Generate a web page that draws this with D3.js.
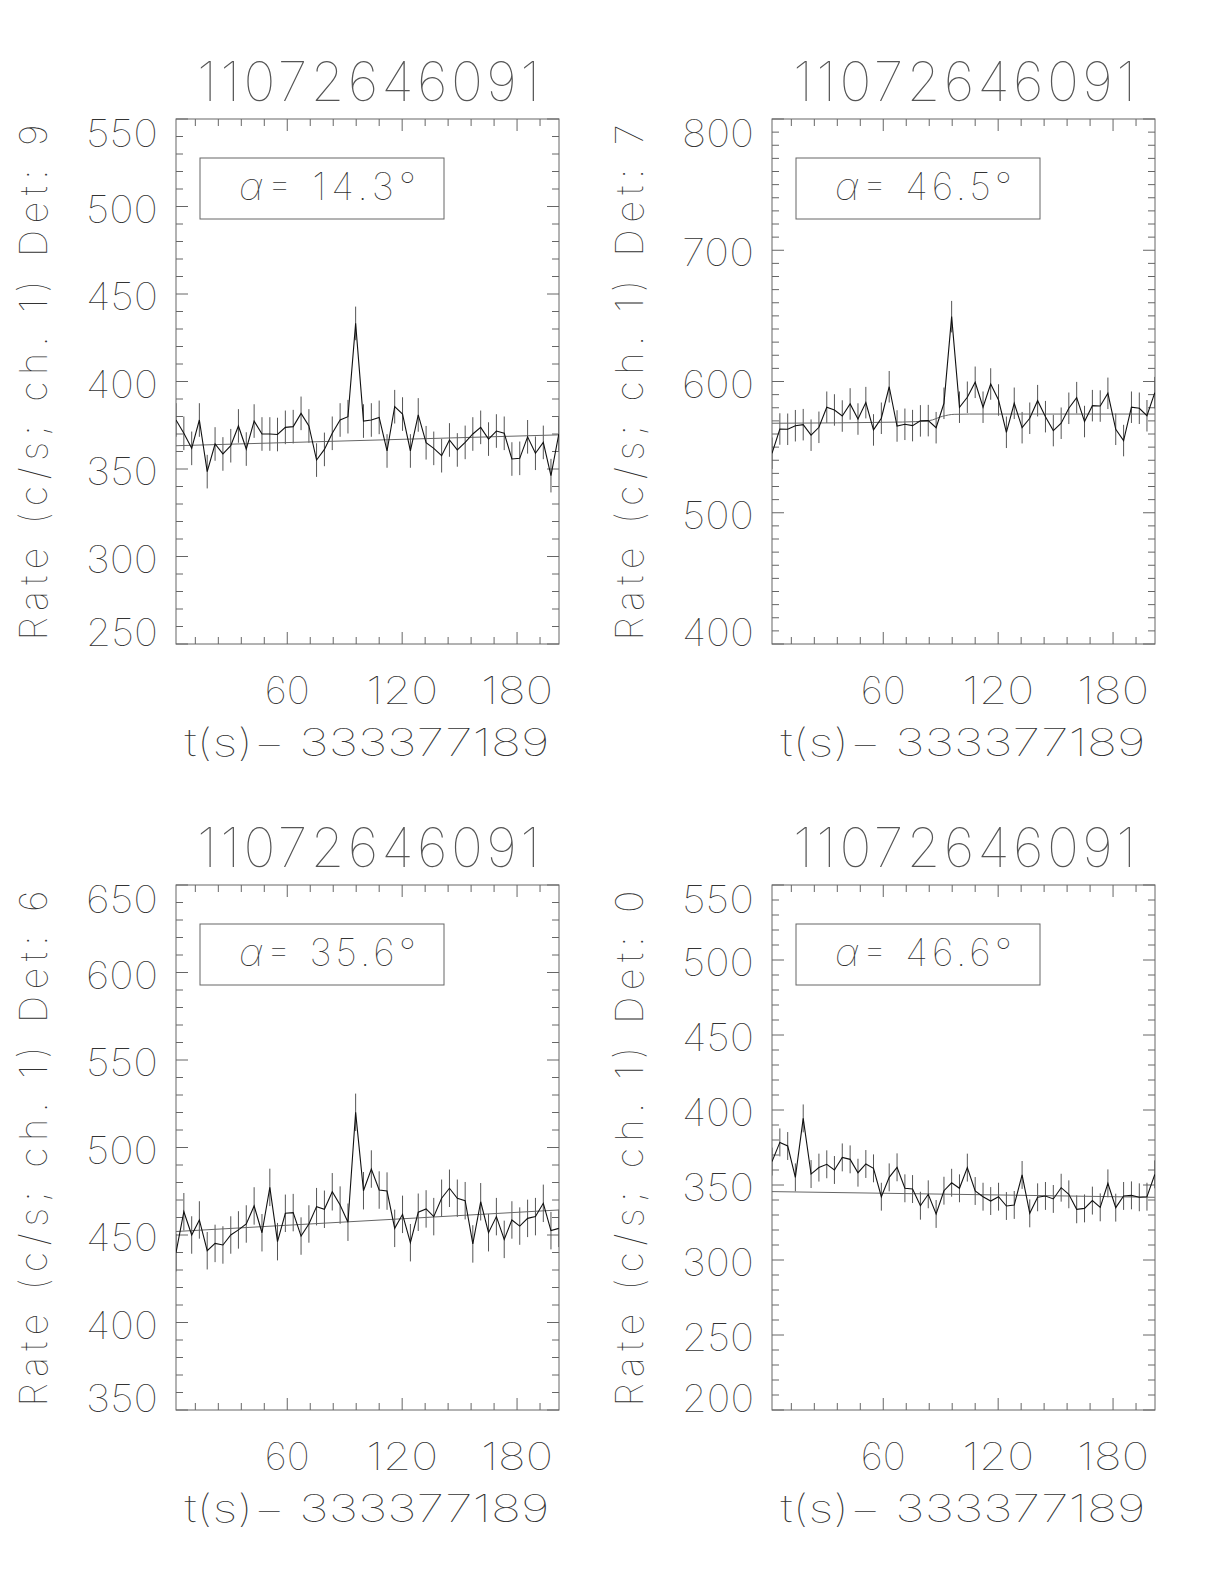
<!DOCTYPE html>
<html><head><meta charset="utf-8">
<script src="https://cdn.jsdelivr.net/npm/d3@7"></script>
<style>
html,body{margin:0;padding:0;background:#fff;}
text{font-family:Inter,"DejaVu Sans",sans-serif;font-weight:100;fill:#333;}
text.ttl{fill:#555;}
</style></head>
<body><svg id="c" width="1224" height="1584"></svg>
<script>
// ---- data ----
const times = [1.9, 6.0, 10.1, 14.1, 18.2, 22.3, 26.4, 30.5, 34.5, 38.6, 42.7, 46.8, 50.9, 54.9, 59.0, 63.1, 67.2, 71.3, 75.3, 79.4, 83.5, 87.6, 91.7, 95.7, 99.8, 103.9, 108.0, 112.1, 116.1, 120.2, 124.3, 128.4, 132.5, 136.5, 140.6, 144.7, 148.8, 152.9, 156.9, 161.0, 165.1, 169.2, 173.3, 177.3, 181.4, 185.5, 189.6, 193.7, 197.7, 201.8];
const rateDet9 = [378, 370.4, 361.8, 378, 348.5, 364.3, 358.6, 363.3, 374.6, 361.4, 377.4, 370, 370, 369.7, 373.8, 374.2, 381.8, 374.6, 355.1, 361.2, 370.4, 378, 379.9, 433.2, 377.4, 378, 379.5, 360.3, 385.6, 381.4, 360.3, 380.9, 365, 361.8, 357.6, 366.6, 360.9, 365.2, 370, 373.8, 367.1, 371.7, 370.4, 355.7, 356.1, 368.4, 359, 365.2, 346.2, 370];
const rateDet7 = [545.3, 563.8, 563.6, 566.3, 567.1, 559.1, 565.1, 580.4, 578.3, 573.7, 582.9, 571.4, 583.9, 563.1, 572, 596, 566.1, 567.4, 566.4, 570, 570.2, 564.8, 583.4, 649.4, 580.4, 588, 599.4, 580.4, 598.1, 585.9, 561.3, 583.4, 564.8, 572, 585.4, 573.2, 562.6, 568.2, 579.6, 587.7, 569.5, 581.6, 581.3, 591, 563.6, 555, 580.4, 579.6, 573.9, 591.5];
const rateDet6 = [439.9, 463.3, 450, 458.6, 441, 445.2, 444.3, 450, 452.9, 456.3, 466.6, 451.3, 477.2, 446.2, 462.4, 462.8, 449.4, 456.3, 466.2, 464.7, 474.7, 467.1, 457.3, 520.1, 475.3, 487.7, 475.7, 475.1, 453.8, 461.8, 445.6, 463, 464.9, 460.5, 471, 476.7, 471, 469.6, 444.9, 469, 451.3, 460.5, 447.5, 458.6, 455.1, 459.5, 460.5, 468.1, 452.5, 453.8];
const rateDet0 = [365.6, 378.4, 376, 355.1, 394.4, 357.3, 361.6, 363.8, 360, 368.4, 367.1, 358.2, 364, 361.1, 342.2, 355.1, 361.8, 347.8, 347.3, 336.2, 343.8, 330.7, 346.2, 351.5, 347.8, 361.6, 346, 342.2, 339.3, 342.2, 336, 336.7, 356.7, 331.1, 341.8, 342.7, 340.7, 348.2, 343.8, 333.8, 334.4, 339.6, 335.1, 351.1, 334.9, 342.7, 343.1, 341.8, 342.2, 357.1];
const errDet9 = 9.6, errDet7 = 12, errDet6 = 10.7, errDet0 = 9.3;
// background fits, given at a few times
const bgT9 = [1.9, 201.8], bgDet9 = [363.3, 369.5];
const bgT7 = [1.9, 70, 84, 91, 97, 105, 201.8], bgDet7 = [568.2, 569.1, 570.2, 573.5, 575, 575.2, 575.2];
const bgT6 = [1.9, 201.8], bgDet6 = [452, 464.3];
const bgT0 = [1.9, 201.8], bgDet0 = [345.6, 341.8];
const titles = ["11072646091", "11072646091", "11072646091", "11072646091"];
const dets = ["9", "7", "6", "0"];
const alphas = ["14.3", "46.5", "35.6", "46.6"];
const yDomains = [[250, 550], [400, 800], [350, 650], [200, 550]];
const yMajorSteps = [50, 100, 50, 50];
const yMinorStep = 10;
const xDomain = [1.9, 201.9];
const xMajorTicks = [60, 120, 180];
const xMinorTicks = [12, 24, 36, 48, 72, 84, 96, 108, 132, 144, 156, 168, 192];
const xTitle = "t(s)\u2212 333377189";

const panels = [
  {rate: rateDet9, err: errDet9, bgT: bgT9, bg: bgDet9},
  {rate: rateDet7, err: errDet7, bgT: bgT7, bg: bgDet7},
  {rate: rateDet6, err: errDet6, bgT: bgT6, bg: bgDet6},
  {rate: rateDet0, err: errDet0, bgT: bgT0, bg: bgDet0}
];

// ---- layout ----
const W = 383, H = 525;
const origins = [[176, 119], [772, 119], [176, 885], [772, 885]];
const svg = d3.select("#c");
const frameCol = "#666";

panels.forEach((p, i) => {
  const [ox, oy] = origins[i];
  const g = svg.append("g").attr("transform", `translate(${ox},${oy})`);
  const x = d3.scaleLinear().domain(xDomain).range([0, W]);
  const y = d3.scaleLinear().domain(yDomains[i]).range([H, 0]);

  const cid = "clip" + i;
  g.append("clipPath").attr("id", cid).append("rect").attr("width", W).attr("height", H);

  // frame
  g.append("rect").attr("width", W).attr("height", H)
    .attr("fill", "none").attr("stroke", frameCol).attr("stroke-width", 1);

  // ticks
  const yMaj = d3.range(yDomains[i][0], yDomains[i][1] + 0.1, yMajorSteps[i]);
  const yMin = d3.range(yDomains[i][0], yDomains[i][1] + 0.1, yMinorStep).filter(v => !yMaj.includes(v));
  const tk = g.append("g").attr("stroke", frameCol).attr("stroke-width", 1);
  yMin.forEach(v => {
    tk.append("line").attr("x1", 0).attr("x2", 7).attr("y1", y(v)).attr("y2", y(v));
    tk.append("line").attr("x1", W).attr("x2", W - 7).attr("y1", y(v)).attr("y2", y(v));
  });
  yMaj.forEach(v => {
    tk.append("line").attr("x1", 0).attr("x2", 12).attr("y1", y(v)).attr("y2", y(v));
    tk.append("line").attr("x1", W).attr("x2", W - 12).attr("y1", y(v)).attr("y2", y(v));
  });
  xMinorTicks.forEach(v => {
    tk.append("line").attr("x1", x(v)).attr("x2", x(v)).attr("y1", H).attr("y2", H - 7);
    tk.append("line").attr("x1", x(v)).attr("x2", x(v)).attr("y1", 0).attr("y2", 7);
  });
  xMajorTicks.forEach(v => {
    tk.append("line").attr("x1", x(v)).attr("x2", x(v)).attr("y1", H).attr("y2", H - 12);
    tk.append("line").attr("x1", x(v)).attr("x2", x(v)).attr("y1", 0).attr("y2", 12);
  });

  // y labels
  yMaj.forEach((v, j) => {
    let off = 16;
    if (j === 0) off = 2;
    if (j === yMaj.length - 1) off = 28;
    g.append("text").attr("x", -18).attr("y", y(v) + off)
      .attr("text-anchor", "end").attr("font-size", 38)
      .attr("textLength", 72).attr("lengthAdjust", "spacingAndGlyphs").text(v);
  });
  // x labels
  xMajorTicks.forEach(v => {
    const s = String(v);
    g.append("text").attr("x", x(v)).attr("y", H + 60)
      .attr("text-anchor", "middle").attr("font-size", 38)
      .attr("textLength", s.length === 2 ? 45 : 72).attr("lengthAdjust", "spacingAndGlyphs").text(s);
  });
  // x title
  g.append("text").attr("x", W / 2 - 0.5).attr("y", H + 112).attr("text-anchor", "middle")
    .attr("font-size", 38).attr("textLength", 365).attr("lengthAdjust", "spacingAndGlyphs").text(xTitle);
  // y title (baseline 129 px left of the frame)
  g.append("text").attr("transform", `translate(-129,${H / 2 + 1}) rotate(-90)`)
    .attr("text-anchor", "middle").attr("font-size", 38)
    .attr("textLength", 516).attr("lengthAdjust", "spacing")
    .text("Rate (c/s; ch. 1) Det: " + dets[i]);
  // panel title
  g.append("text").attr("class", "ttl").attr("x", W / 2 + 1).attr("y", -18).attr("text-anchor", "middle")
    .attr("font-size", 54).attr("textLength", 343).attr("lengthAdjust", "spacing").text(titles[i]);

  // alpha box
  g.append("rect").attr("x", 24).attr("y", 39).attr("width", 244).attr("height", 61)
    .attr("fill", "none").attr("stroke", frameCol).attr("stroke-width", 1);
  const at = g.append("text").attr("x", 63).attr("y", 80.5).attr("font-size", 38)
    .attr("textLength", 177).attr("lengthAdjust", "spacing");
  at.append("tspan").attr("font-style", "italic").text("\u03b1");
  at.append("tspan").text("= " + alphas[i] + "\u00b0");

  // data
  const dg = g.append("g").attr("clip-path", `url(#${cid})`);
  // error bars
  dg.append("g").attr("stroke", "#555").attr("stroke-width", 1)
    .selectAll("line").data(p.rate).join("line")
    .attr("x1", (d, k) => x(times[k])).attr("x2", (d, k) => x(times[k]))
    .attr("y1", d => y(d - p.err)).attr("y2", d => y(d + p.err));
  // background fit
  const bgPts = p.bgT.map((t, k) => [t, p.bg[k]]);
  dg.append("path").datum(bgPts)
    .attr("d", d3.line().x(d => x(d[0])).y(d => y(d[1])).curve(d3.curveMonotoneX))
    .attr("fill", "none").attr("stroke", "#666").attr("stroke-width", 1);
  // rate line
  dg.append("path").datum(p.rate)
    .attr("d", d3.line().x((d, k) => x(times[k])).y(d => y(d)))
    .attr("fill", "none").attr("stroke", "#111").attr("stroke-width", 1.1);
});
</script>
</body></html>
